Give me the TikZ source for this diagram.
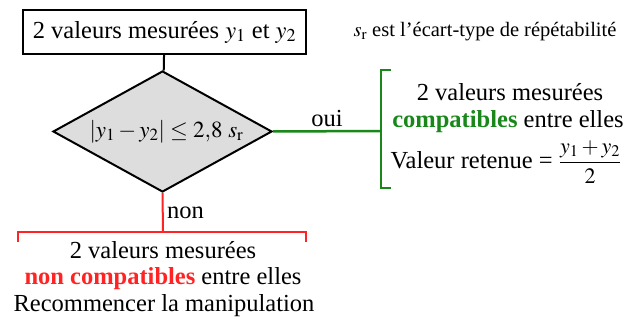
\documentclass[tikz,border=0pt]{standalone}
\usepackage{amsmath}
\usepackage{mathptmx}
\usepackage{fontspec}
\setmainfont{Liberation Serif}
\usetikzlibrary{shapes.geometric}
\definecolor{vert}{RGB}{25,135,25}
\definecolor{rouge}{RGB}{255,35,35}
\definecolor{gris}{RGB}{221,221,221}

\begin{document}
\begin{tikzpicture}[x=1pt, y=-1pt, font=\fontsize{24.5}{28}\selectfont]
		\useasboundingbox (0, 0) rectangle (635, 320);

		\coordinate (V) at (381, 131);
		\coordinate (R) at (163, 232);

		\node[draw, line width=2pt, minimum width=283pt, minimum height=44pt, inner sep=0] (mesures) at (164.5, 32) {2 valeurs mesurées $y_1$ et $y_2$};
		\node[diamond, draw, line width=2pt, fill=gris, aspect=1.81, minimum width=219pt, minimum height=121pt, inner sep=0, font=\fontsize{23}{26}\selectfont] (test) at (162.5, 131.5) {\hspace{8pt}$\left|y_1-y_2\right|\leq 2{,}8\ s_\mathrm{r}$};
		\node[font=\fontsize{20.5}{24}\selectfont] (remarque) at (485, 32) {$s_\mathrm{r}$ est l'écart-type de répétabilité};

		\draw[line width=2pt] (mesures) -- (test);
		\draw[vert, line width=2.5pt] (test.east) -- node[above, black] (oui) {oui} (V);
		\draw[vert, line width=2.5pt] (391, 70) -- (381, 70) -- (381, 188) -- (391, 188);
		\draw[rouge, line width=2pt] (test.south) -- node[right, black] (non) {non} (R);
		\draw[rouge, line width=2pt] (18, 242) -- (18, 232) -- (306, 232) -- (306, 242);

		\node (oui1) at (510, 92) {2 valeurs mesurées};
		\node (oui2) at (508, 122) {\textcolor{vert}{\textbf{compatibles}} entre elles};
		\node (oui3) at (506, 162) {Valeur retenue = {\fontsize{22}{26}\selectfont$\dfrac{y_1+y_2}{2}$}};

		\node (non1) at (163, 250) {2 valeurs mesurées};
		\node (non2) at (163, 279) {\textcolor{rouge}{\textbf{non compatibles}} entre elles};
		\node (non3) at (164, 306) {Recommencer la manipulation};
	\end{tikzpicture}
\end{document}
